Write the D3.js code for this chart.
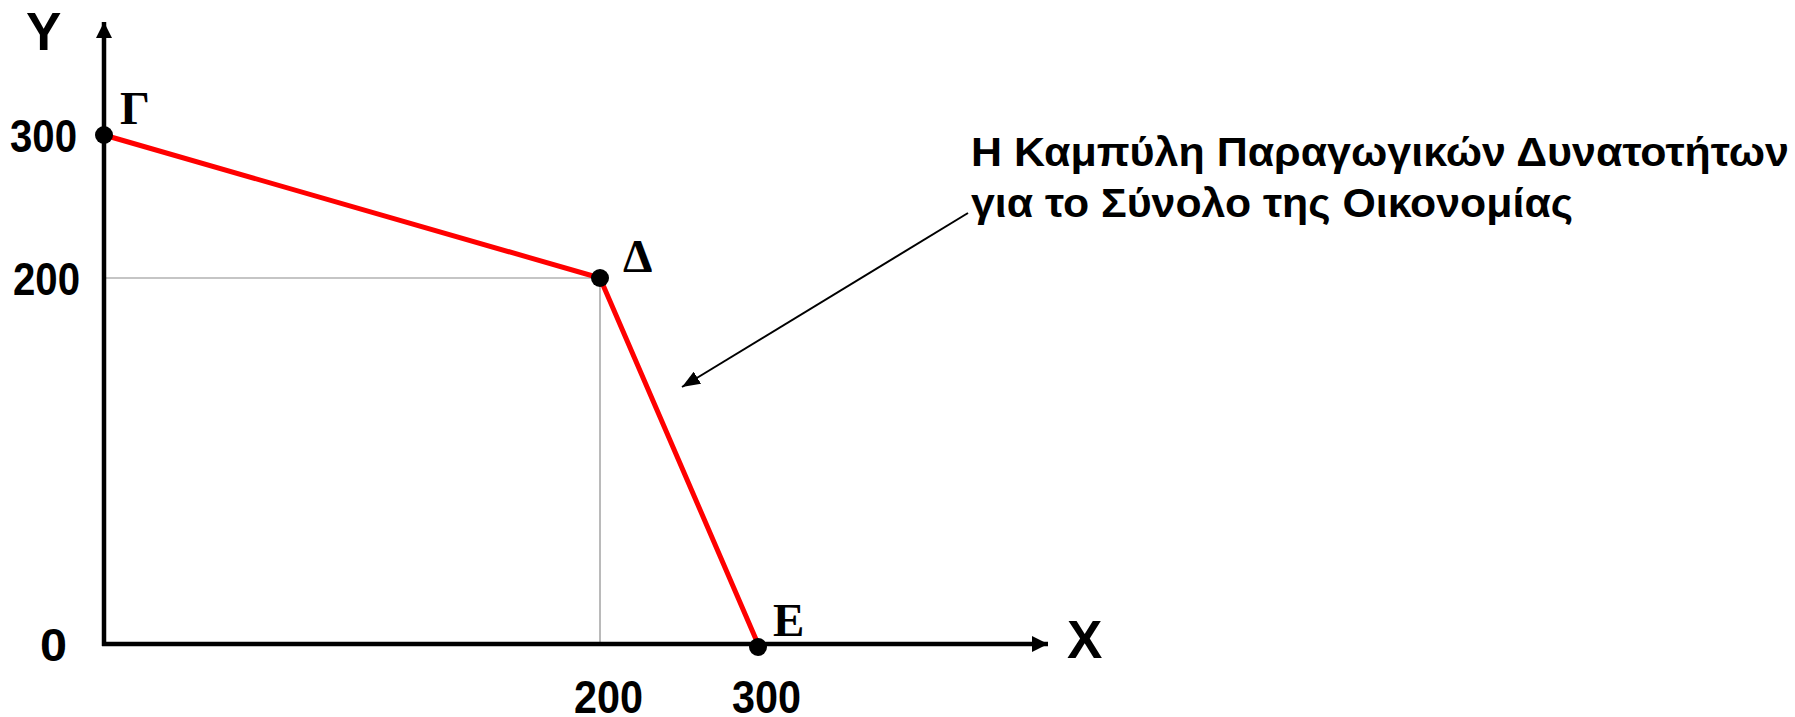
<!DOCTYPE html>
<html>
<head>
<meta charset="utf-8">
<script src="https://cdn.jsdelivr.net/npm/d3@7"></script>
<style>
  body { margin: 0; background: #fff; }
</style>
</head>
<body>
<div class="d3Chart"></div>
<script>
// data
var pointLabels = ["Γ", "Δ", "Ε"];
var xValues = [0, 200, 300];
var yValues = [300, 200, 0];
var xTicks = [200, 300];
var yTicks = [0, 200, 300];
var titleLines = [
  "Η Καμπύλη Παραγωγικών Δυνατοτήτων",
  "για το Σύνολο της Οικονομίας",
];

var width = 1795;
var height = 717;
var svg = d3
  .select(".d3Chart")
  .append("svg")
  .attr("width", width)
  .attr("height", height)
  .style("background-color", "#fff");

// scales (the picture is not drawn to scale, so piecewise)
var x = d3.scaleLinear().domain([0, 200, 300]).range([104, 600, 758]);
var y = d3.scaleLinear().domain([0, 200, 300]).range([644, 278, 135]);

var sans = "'Liberation Sans', Arial, sans-serif";
var serif = "'Liberation Serif', 'Times New Roman', serif";

// arrow markers
var defs = svg.append("defs");
defs
  .append("marker")
  .attr("id", "arrowBig")
  .attr("viewBox", "0 0 16 16")
  .attr("refX", 16)
  .attr("refY", 8)
  .attr("markerWidth", 16)
  .attr("markerHeight", 16)
  .attr("markerUnits", "userSpaceOnUse")
  .attr("orient", "auto")
  .append("path")
  .attr("d", "M0,0 L16,8 L0,16 Z")
  .attr("fill", "#000");
defs
  .append("marker")
  .attr("id", "arrowSmall")
  .attr("viewBox", "0 0 18 14")
  .attr("refX", 18)
  .attr("refY", 7)
  .attr("markerWidth", 18)
  .attr("markerHeight", 14)
  .attr("markerUnits", "userSpaceOnUse")
  .attr("orient", "auto")
  .append("path")
  .attr("d", "M0,0 L18,7 L0,14 Z")
  .attr("fill", "#000");

// guide lines to point Δ
var dx = x(xValues[1]);
var dy = y(yValues[1]);
svg
  .append("line")
  .attr("x1", x(0))
  .attr("x2", dx)
  .attr("y1", dy)
  .attr("y2", dy)
  .attr("stroke", "#8c8c8c")
  .attr("stroke-width", 1.2);
svg
  .append("line")
  .attr("x1", dx)
  .attr("x2", dx)
  .attr("y1", dy)
  .attr("y2", y(0))
  .attr("stroke", "#8c8c8c")
  .attr("stroke-width", 1.2);

// axes lines
svg
  .append("line")
  .attr("x1", x(0))
  .attr("y1", y(0) + 2)
  .attr("x2", x(0))
  .attr("y2", 22)
  .attr("stroke", "#000")
  .attr("stroke-width", 4.5)
  .attr("marker-end", "url(#arrowBig)");
svg
  .append("line")
  .attr("x1", x(0) - 2)
  .attr("y1", y(0))
  .attr("x2", 1048)
  .attr("y2", y(0))
  .attr("stroke", "#000")
  .attr("stroke-width", 4.5)
  .attr("marker-end", "url(#arrowBig)");

// tick labels
var yAxis = svg
  .append("g")
  .attr("transform", "translate(" + x(0) + ",0)")
  .call(d3.axisLeft(y).tickValues(yTicks).tickSize(0).tickPadding(27));
yAxis.select(".domain").remove();
yAxis
  .selectAll("text")
  .attr("font-family", sans)
  .attr("font-weight", "bold")
  .attr("font-size", 47)
  .attr("fill", "#000")
  .attr("dy", "0.36em")
  .attr("dx", (d) => (d === 0 ? -10 : d === 200 ? 3 : 0))
  .attr("textLength", (d) => (d === 0 ? 27 : 67))
  .attr("lengthAdjust", "spacingAndGlyphs");

var xAxis = svg
  .append("g")
  .attr("transform", "translate(0," + y(0) + ")")
  .call(d3.axisBottom(x).tickValues(xTicks).tickSize(0).tickPadding(36));
xAxis.select(".domain").remove();
xAxis
  .selectAll("text")
  .attr("font-family", sans)
  .attr("font-weight", "bold")
  .attr("font-size", 47)
  .attr("fill", "#000")
  .attr("dx", 8)
  .attr("textLength", 69)
  .attr("lengthAdjust", "spacingAndGlyphs");

// axis names
svg
  .append("text")
  .attr("x", 26)
  .attr("y", 50)
  .attr("font-family", sans)
  .attr("font-weight", "bold")
  .attr("font-size", 53)
  .text("Y");
svg
  .append("text")
  .attr("x", 1067)
  .attr("y", 658)
  .attr("font-family", sans)
  .attr("font-weight", "bold")
  .attr("font-size", 53)
  .text("X");

// the curve
var points = xValues.map((v, i) => ({ x: v, y: yValues[i], label: pointLabels[i] }));
var line = d3
  .line()
  .x((d) => x(d.x))
  .y((d) => y(d.y));
svg
  .append("path")
  .datum(points)
  .attr("fill", "none")
  .attr("stroke", "#ff0000")
  .attr("stroke-width", 5)
  .attr("stroke-linejoin", "round")
  .attr("d", line);

svg
  .selectAll(".dot")
  .data(points)
  .enter()
  .append("circle")
  .attr("class", "dot")
  .attr("cx", (d) => x(d.x))
  .attr("cy", (d, i) => y(d.y) + (i === 2 ? 3 : 0))
  .attr("r", 9)
  .attr("fill", "#000");

// point labels
var labelOffset = [
  [16, -11],
  [23, -6],
  [15, -8],
];
svg
  .selectAll(".plabel")
  .data(points)
  .enter()
  .append("text")
  .attr("class", "plabel")
  .attr("x", (d, i) => x(d.x) + labelOffset[i][0])
  .attr("y", (d, i) => y(d.y) + labelOffset[i][1])
  .attr("font-family", serif)
  .attr("font-weight", "bold")
  .attr("font-size", 47)
  .text((d) => d.label);

// annotation
var title = svg
  .append("g")
  .attr("font-family", sans)
  .attr("font-weight", "bold")
  .attr("font-size", 41);
title
  .selectAll("text")
  .data(titleLines)
  .enter()
  .append("text")
  .attr("x", 971)
  .attr("y", (d, i) => 166 + i * 51)
  .attr("textLength", (d, i) => (i === 0 ? 818 : 602))
  .attr("lengthAdjust", "spacingAndGlyphs")
  .text((d) => d);

svg
  .append("line")
  .attr("x1", 968)
  .attr("y1", 213)
  .attr("x2", 682)
  .attr("y2", 387)
  .attr("stroke", "#000")
  .attr("stroke-width", 2)
  .attr("marker-end", "url(#arrowSmall)");
</script>
</body>
</html>
